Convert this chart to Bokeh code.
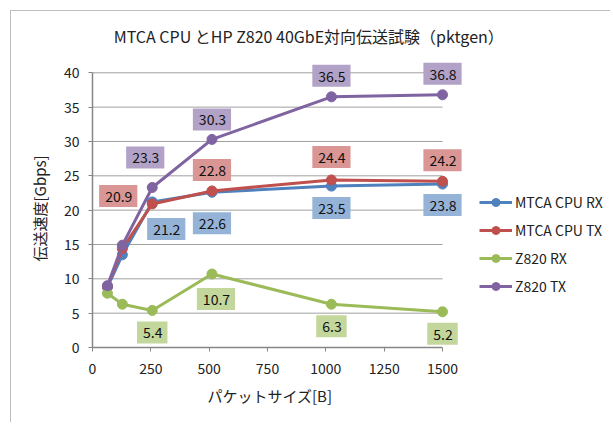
from bokeh.plotting import figure
from bokeh.models import Range1d, Label, Legend, LegendItem, FixedTicker, Title
from bokeh.embed import file_html
from bokeh.resources import INLINE

# ---------------- data ----------------
packet_sizes = [64, 128, 256, 512, 1024, 1500]
series_names = ["MTCA CPU RX", "MTCA CPU TX", "Z820 RX", "Z820 TX"]
mtca_rx = [8.8, 13.5, 21.2, 22.6, 23.5, 23.8]
mtca_tx = [8.9, 14.4, 20.9, 22.8, 24.4, 24.2]
z820_rx = [7.9, 6.3, 5.4, 10.7, 6.3, 5.2]
z820_tx = [9.0, 14.9, 23.3, 30.3, 36.5, 36.8]
x_ticks = [0, 250, 500, 750, 1000, 1250, 1500]
y_ticks = [0, 5, 10, 15, 20, 25, 30, 35, 40]
labelled_points = [2, 3, 4, 5]  # indices of points that carry a value label

title_text = "MTCA CPU  とHP Z820 40GbE対向伝送試験（pktgen）"
x_title = "パケットサイズ[B]"
y_title = "伝送速度[Gbps]"

# ---------------- style ----------------
FONT = "Noto Sans CJK JP"
line_colors = ["#4F81BD", "#C0504D", "#9BBB59", "#8064A2"]
label_fills = ["#95B3D7", "#DA9694", "#C3D69B", "#B3A2C7"]
# pixel offsets (dx right, dy down) of value labels for each series
label_offsets = [
    [(14, 27), (0, 31), (0, 22), (0, 21)],
    [(-34, -8), (0, -21), (0, -23), (0, -21)],
    [(0, 22), (4, 25), (0, 22), (0, 22)],
    [(-7, -30), (0, -20), (0, -21), (0, -21)],
]
all_values = [mtca_rx, mtca_tx, z820_rx, z820_tx]

W, H = 600, 412                 # canvas (placed 11px in from page corner)
FL, FB = 81, 336                # frame left / frame bottom (canvas px)
AX_W, AX_H = 350.0, 274.7       # pixel length of the 0..1500 and 0..40 axes
x_min, x_max = x_ticks[0], x_ticks[-1]
y_min, y_max = y_ticks[0], y_ticks[-1]
x_end = x_min + (x_max - x_min) * (W - FL) / AX_W
y_end = y_min + (y_max - y_min) * FB / AX_H

p = figure(width=W, height=H, output_backend="svg", toolbar_location=None,
           x_range=Range1d(x_min, x_end), y_range=Range1d(y_min, y_end),
           min_border_left=FL, min_border_right=0,
           min_border_top=0, min_border_bottom=H - FB)
p.styles = {"margin-left": "10px", "margin-top": "10px",
            "border-left": "1px solid #bfbfbf", "border-top": "1px solid #bfbfbf"}
p.outline_line_color = None
p.background_fill_color = "white"
p.border_fill_color = "white"
p.xgrid.grid_line_color = None
p.ygrid.grid_line_color = None

# horizontal gridlines limited to the plot area
gy = y_ticks[1:]
p.segment(x0=[x_min] * len(gy), y0=gy, x1=[x_max] * len(gy), y1=gy,
          line_color="#a0a0a0", line_width=1)

p.xaxis.ticker = FixedTicker(ticks=x_ticks)
p.yaxis.ticker = FixedTicker(ticks=y_ticks)
p.xaxis.bounds = (x_min, x_max)
p.yaxis.bounds = (y_min, y_max)
for ax in (p.xaxis, p.yaxis):
    ax.axis_line_color = "#868686"
    ax.axis_line_width = 1.5
    ax.major_tick_line_color = "#868686"
    ax.major_tick_in = 0
    ax.major_tick_out = 4
    ax.minor_tick_line_color = None
    ax.major_label_text_font = FONT
    ax.major_label_text_font_size = "14px"
    ax.major_label_text_color = "#222222"
p.xaxis.major_label_standoff = 11
p.yaxis.major_label_standoff = 9

# axis titles, centred on the 0..1500 / 0..40 extent of the plot area
p.add_layout(Title(text=x_title, align="left", offset=115, vertical_align="middle",
                   standoff=14, text_font=FONT, text_font_size="15px",
                   text_font_style="normal", text_color="#222222"), "below")
p.add_layout(Title(text=y_title, align="left", offset=86, vertical_align="middle",
                   standoff=20, text_font=FONT, text_font_size="15px",
                   text_font_style="normal", text_color="#222222"), "left")

# chart title
p.add_layout(Label(x=218, y=FB - 24, x_units="screen", y_units="screen",
                   text=title_text, text_align="center", text_baseline="middle",
                   text_font=FONT, text_font_size="16px", text_color="#222222"))

items = []
for name, vals, col in zip(series_names, all_values, line_colors):
    lr = p.line(packet_sizes, vals, line_color=col, line_width=3)
    sr = p.scatter(packet_sizes, vals, size=10, fill_color=col, line_color=col)
    items.append(LegendItem(label=name, renderers=[lr, sr]))

for vals, fill, offs in zip(all_values, label_fills, label_offsets):
    for j, (dx, dy) in zip(labelled_points, offs):
        p.add_layout(Label(x=packet_sizes[j], y=vals[j], text=f"{vals[j]:.1f}",
                           x_offset=dx, y_offset=-dy,
                           text_align="center", text_baseline="middle",
                           text_font=FONT, text_font_size="14px", text_color="#111111",
                           background_fill_color=fill, padding=(6, 5, 6, 5)))

legend = Legend(items=items, location=(387, 51), orientation="vertical",
                glyph_width=33, glyph_height=20, label_height=20, spacing=8,
                label_standoff=3, padding=0, margin=0,
                border_line_alpha=0, background_fill_alpha=0,
                label_text_font=FONT, label_text_font_size="14px",
                label_text_color="#222222")
p.add_layout(legend, "center")

open("out.html", "w").write(file_html(p, INLINE))
